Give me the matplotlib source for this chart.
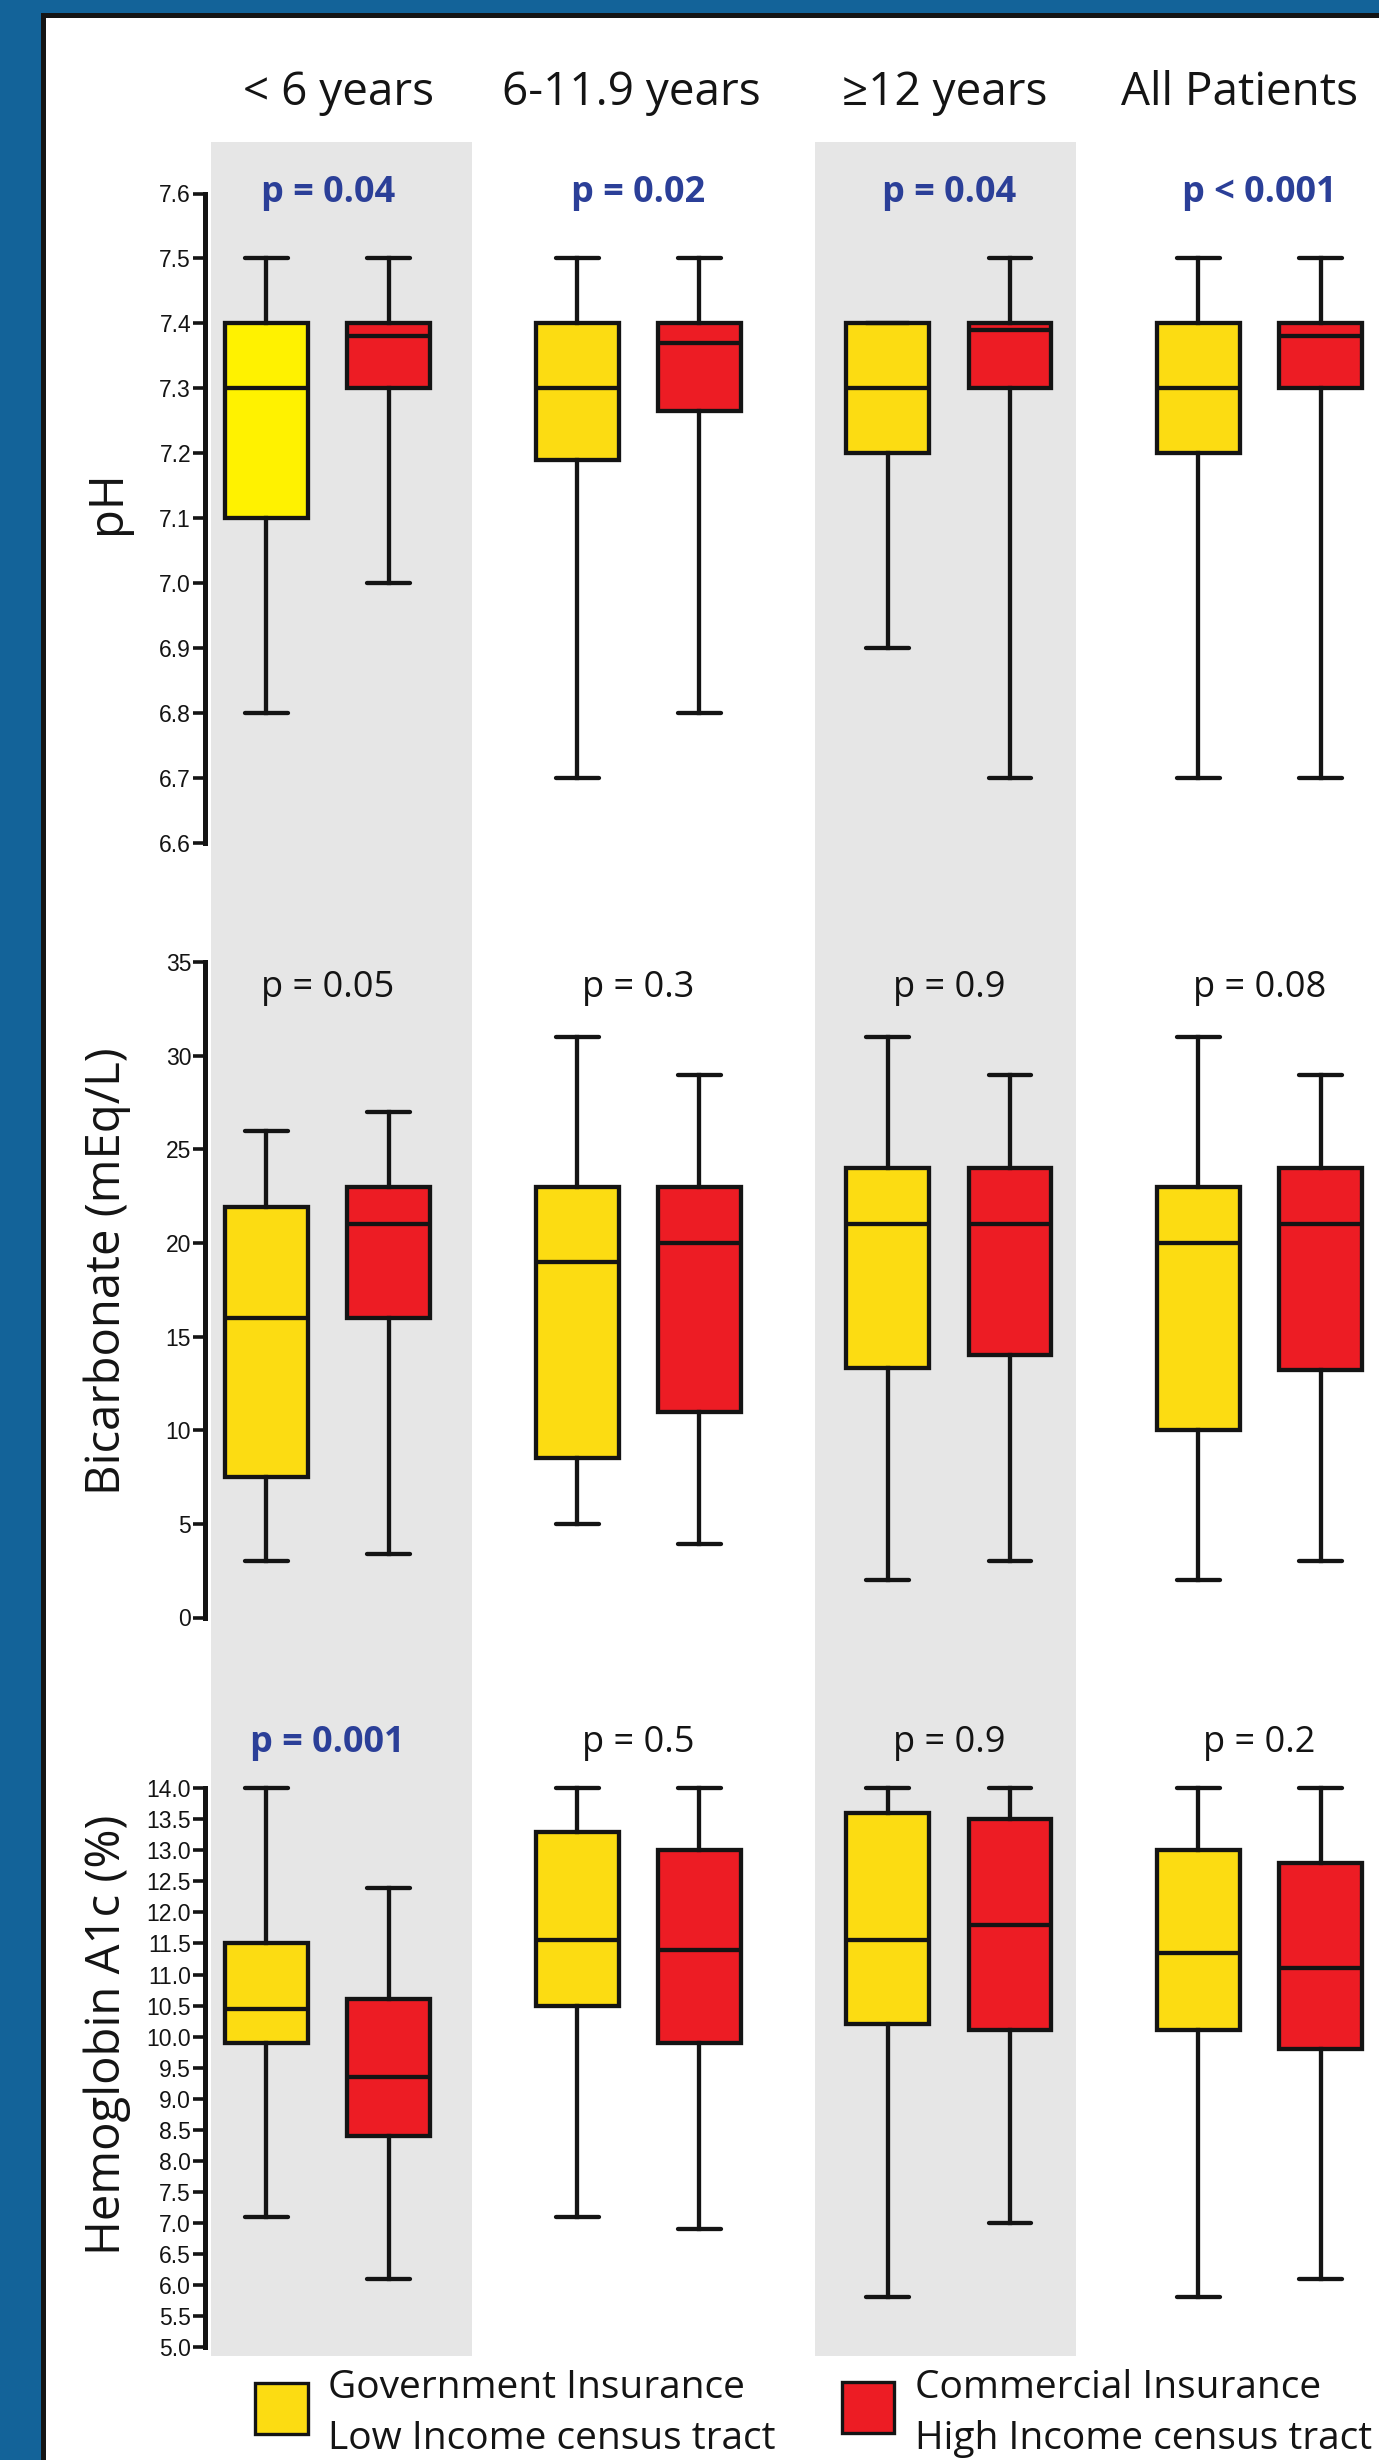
import numpy as np
import matplotlib
matplotlib.use('Agg')
import matplotlib.pyplot as plt
from matplotlib.patches import Rectangle
from matplotlib.transforms import blended_transform_factory

# figure size in pixels
W, H = 1379, 2460
DPI = 100

groups = ['< 6 years', '6-11.9 years', '\u226512 years', 'All Patients']

# box stats per group: (whisker low, q1, median, q3, whisker high)
ph_gov = [(6.8, 7.1, 7.3, 7.4, 7.5), (6.7, 7.19, 7.3, 7.4, 7.5),
          (6.9, 7.2, 7.3, 7.4, 7.4), (6.7, 7.2, 7.3, 7.4, 7.5)]
ph_com = [(7.0, 7.3, 7.38, 7.4, 7.5), (6.8, 7.265, 7.37, 7.4, 7.5),
          (6.7, 7.3, 7.39, 7.4, 7.5), (6.7, 7.3, 7.38, 7.4, 7.5)]
bicarb_gov = [(3, 7.5, 16, 21.9, 26), (5, 8.5, 19, 23, 31),
              (2, 13.3, 21, 24, 31), (2, 10, 20, 23, 31)]
bicarb_com = [(3.4, 16, 21, 23, 27), (3.9, 11, 20, 23, 29),
              (3, 14, 21, 24, 29), (3, 13.2, 21, 24, 29)]
a1c_gov = [(7.1, 9.9, 10.45, 11.5, 14.0), (7.1, 10.5, 11.55, 13.3, 14.0),
           (5.8, 10.2, 11.55, 13.6, 14.0), (5.8, 10.1, 11.35, 13.0, 14.0)]
a1c_com = [(6.1, 8.4, 9.35, 10.6, 12.4), (6.9, 9.9, 11.4, 13.0, 14.0),
           (7.0, 10.1, 11.8, 13.5, 14.0), (6.1, 9.8, 11.1, 12.8, 14.0)]

ph_p = ['p = 0.04', 'p = 0.02', 'p = 0.04', 'p < 0.001']
bicarb_p = ['p = 0.05', 'p = 0.3', 'p = 0.9', 'p = 0.08']
a1c_p = ['p = 0.001', 'p = 0.5', 'p = 0.9', 'p = 0.2']
ph_sig = [True, True, True, True]
bicarb_sig = [False, False, False, False]
a1c_sig = [True, False, False, False]

ph_ticks = [6.6, 6.7, 6.8, 6.9, 7.0, 7.1, 7.2, 7.3, 7.4, 7.5, 7.6]
bicarb_ticks = [0, 5, 10, 15, 20, 25, 30, 35]
a1c_ticks = [5.0, 5.5, 6.0, 6.5, 7.0, 7.5, 8.0, 8.5, 9.0, 9.5, 10.0,
             10.5, 11.0, 11.5, 12.0, 12.5, 13.0, 13.5, 14.0]

row_labels = ['pH', 'Bicarbonate (mEq/L)', 'Hemoglobin A1c (%)']
legend_gov = ['Government Insurance', 'Low Income census tract']
legend_com = ['Commercial Insurance', 'High Income census tract']

# colours
BLUE_BG = '#136399'
BAND = '#e6e6e6'
YELLOW = '#fcdc12'
YELLOW_BRIGHT = '#fff200'
RED = '#ed1c24'
INK = '#141414'
P_BLUE = '#2b3f98'

TEXT_FONT = ['Open Sans', 'DejaVu Sans']
TICK_FONT = ['Liberation Sans', 'DejaVu Sans']

# layout (pixels)
AX_LEFT, AX_RIGHT = 205, 1379
XMIN, XMAX = -0.395, 3.385
OFF, BOX_W, CAP_W = 0.197, 0.267, 0.138
row_tops = [193.5, 962.2, 1788.2]
row_bottoms = [843, 1617.5, 2347.1]
p_baselines = [202, 997, 1752]
label_ys = [502, 1271, 2035]
bands = [(-0.376, 0.465), (1.568, 2.409)]
title_xs = [0.036, 0.979, 1.987, 2.937]


def fx(px):
    return px / W


def fy(py):
    return 1 - py / H


fig = plt.figure(figsize=(W / DPI, H / DPI), dpi=DPI, facecolor=BLUE_BG)

# white panel with black frame
panel = Rectangle((fx(42.5), fy(H + 30)), 1.0, fy(14.5) - fy(H + 30),
                  transform=fig.transFigure, facecolor='white',
                  edgecolor=INK, linewidth=3.6, zorder=-5)
fig.add_artist(panel)

# background axes for grey bands and column titles
ax_bg = fig.add_axes([fx(AX_LEFT), fy(2356), fx(AX_RIGHT) - fx(AX_LEFT), fy(142) - fy(2356)])
ax_bg.set_xlim(XMIN, XMAX)
ax_bg.set_ylim(0, 1)
ax_bg.axis('off')
for lo, hi in bands:
    ax_bg.axvspan(lo, hi, color=BAND, lw=0)

title_tr = blended_transform_factory(ax_bg.transData, fig.transFigure)
for x, name in zip(title_xs, groups):
    ax_bg.text(x, fy(105), name, transform=title_tr, ha='center', va='baseline',
               fontsize=33, family=TEXT_FONT, color=INK, clip_on=False)

rows = [
    (ph_gov, ph_com, ph_p, ph_sig, ph_ticks, '{:.1f}'),
    (bicarb_gov, bicarb_com, bicarb_p, bicarb_sig, bicarb_ticks, '{:d}'),
    (a1c_gov, a1c_com, a1c_p, a1c_sig, a1c_ticks, '{:.1f}'),
]


def to_stats(series):
    return [dict(whislo=a, q1=b, med=c, q3=d, whishi=e, fliers=[])
            for a, b, c, d, e in series]


pos = np.arange(len(groups))
for r, (gov, com, pvals, sig, ticks, fmt) in enumerate(rows):
    top, bottom = row_tops[r], row_bottoms[r]
    ax = fig.add_axes([fx(AX_LEFT), fy(bottom), fx(AX_RIGHT) - fx(AX_LEFT), fy(top) - fy(bottom)])
    ax.patch.set_visible(False)

    for series, offset, colour in [(gov, -OFF, YELLOW), (com, OFF, RED)]:
        art = ax.bxp(to_stats(series), positions=pos + offset, widths=BOX_W,
                     capwidths=CAP_W, patch_artist=True, showfliers=False,
                     boxprops=dict(facecolor=colour, edgecolor=INK, linewidth=3.1),
                     medianprops=dict(color=INK, linewidth=3.1),
                     whiskerprops=dict(color=INK, linewidth=3.1),
                     capprops=dict(color=INK, linewidth=3.1, solid_capstyle='round'))
        for key in art:
            for a in art[key]:
                a.set_clip_on(False)
        if r == 0 and colour == YELLOW:
            art['boxes'][0].set_facecolor(YELLOW_BRIGHT)

    ax.set_xlim(XMIN, XMAX)
    ax.set_ylim(ticks[0], ticks[-1])
    ax.set_xticks([])
    ax.set_yticks(ticks)
    ax.set_yticklabels([fmt.format(t) for t in ticks], family=TICK_FONT, fontsize=16.5, color=INK)
    for side in ['top', 'right', 'bottom']:
        ax.spines[side].set_visible(False)
    ax.spines['left'].set_linewidth(3.6)
    ax.spines['left'].set_color(INK)
    ax.tick_params(axis='y', length=9, width=2.6, color=INK, pad=1, direction='out')

    p_tr = blended_transform_factory(ax.transData, fig.transFigure)
    for g, (txt, s) in enumerate(zip(pvals, sig)):
        ax.text(g, fy(p_baselines[r]), txt, transform=p_tr, ha='center', va='baseline',
                fontsize=26, family=TEXT_FONT, clip_on=False,
                color=P_BLUE if s else INK, fontweight='bold' if s else 'normal')

    fig.text(fx(107), fy(label_ys[r]), row_labels[r], rotation=90, ha='center', va='center',
             fontsize=34, family=TEXT_FONT, color=INK)

# legend
for (x0, y0, x1, y1), colour, lines, tx in [((255, 2383, 308, 2434), YELLOW, legend_gov, 328),
                                              ((842, 2382, 894, 2433), RED, legend_com, 915)]:
    fig.add_artist(Rectangle((fx(x0), fy(y1)), fx(x1) - fx(x0), fy(y0) - fy(y1),
                             transform=fig.transFigure, facecolor=colour,
                             edgecolor=INK, linewidth=2.4))
    for line, base in zip(lines, [2398, 2449]):
        fig.text(fx(tx), fy(base), line, ha='left', va='baseline', fontsize=28,
                 family=TEXT_FONT, color=INK)

fig.savefig('out.png', dpi=DPI, facecolor=BLUE_BG)
